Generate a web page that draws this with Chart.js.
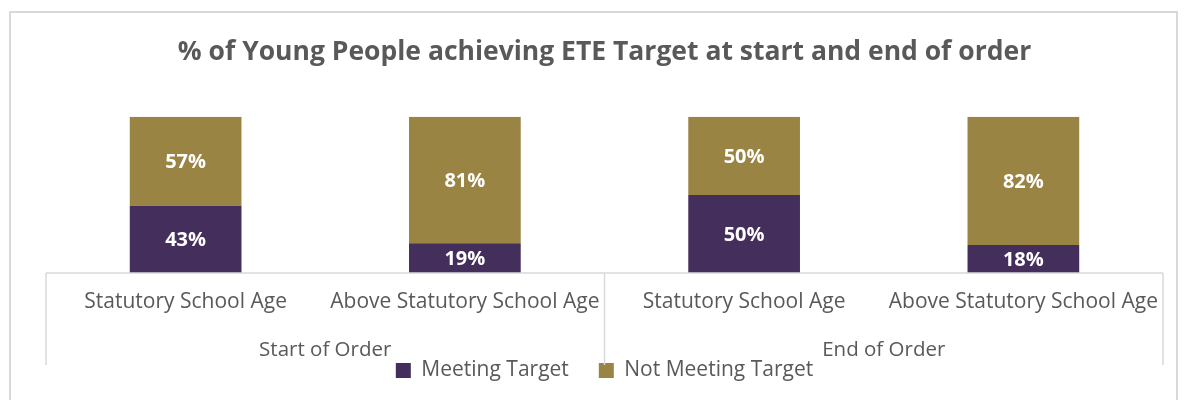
<!DOCTYPE html>
<html>
<head>
<meta charset="utf-8">
<script src="https://cdn.jsdelivr.net/npm/chart.js@4"></script>
<style>
  html, body { margin: 0; padding: 0; background: #fff; }
  #wrap { width: 1188px; height: 400px; position: relative; }
</style>
</head>
<body>
<div id="wrap"><canvas id="chartEte" width="1188" height="400"></canvas></div>
<script>
// data
const kategori = ['Statutory School Age', 'Above Statutory School Age', 'Statutory School Age', 'Above Statutory School Age'];
const grup = ['Start of Order', 'End of Order'];
const grupUkuran = [2, 2]; // jumlah kategori per grup
const memenuhiTarget = [43, 19, 50, 18];
const tidakMemenuhiTarget = [57, 81, 50, 82];

const warnaUngu = '#432e5c';
const warnaEmas = '#9a8443';
const warnaTeks = '#595959';
const warnaGaris = '#d9d9d9';
const hurufUtama = "'Open Sans', sans-serif";

// label nilai di tengah batang
const labelNilai = {
  id: 'labelNilai',
  afterDatasetsDraw(chart) {
    const ctx = chart.ctx;
    ctx.save();
    ctx.fillStyle = '#ffffff';
    ctx.font = "bold 20px " + hurufUtama;
    ctx.textAlign = 'center';
    ctx.textBaseline = 'middle';
    chart.data.datasets.forEach((ds, i) => {
      chart.getDatasetMeta(i).data.forEach((bar, j) => {
        const p = bar.getProps(['x', 'y', 'base'], true);
        ctx.fillText(ds.data[j] + '%', p.x, (p.y + p.base) / 2 + 1);
      });
    });
    ctx.restore();
  }
};

// garis sumbu, pemisah grup dan label grup
const sumbuGrup = {
  id: 'sumbuGrup',
  beforeDraw(chart) {
    const ctx = chart.ctx;
    ctx.save();
    ctx.strokeStyle = warnaGaris;
    ctx.lineWidth = 2;
    ctx.strokeRect(10, 12, 1167, 400);
    ctx.restore();
  },
  afterDraw(chart) {
    const ctx = chart.ctx;
    const x = chart.scales.x;
    const area = chart.chartArea;
    const lebar = x.getPixelForValue(1) - x.getPixelForValue(0);
    ctx.save();
    ctx.strokeStyle = warnaGaris;
    ctx.lineWidth = 1.5;
    ctx.beginPath();
    ctx.moveTo(area.left, area.bottom);
    ctx.lineTo(area.right, area.bottom);
    let idx = 0;
    const batas = [x.getPixelForValue(0) - lebar / 2];
    grupUkuran.forEach(n => { idx += n; batas.push(x.getPixelForValue(idx - 1) + lebar / 2); });
    batas.forEach(bx => { ctx.moveTo(bx, area.bottom); ctx.lineTo(bx, area.bottom + 92); });
    ctx.stroke();
    ctx.fillStyle = warnaTeks;
    ctx.font = "20.5px " + hurufUtama;
    ctx.textAlign = 'center';
    ctx.textBaseline = 'middle';
    grup.forEach((g, i) => ctx.fillText(g, (batas[i] + batas[i + 1]) / 2, area.bottom + 77));
    ctx.restore();
  }
};

new Chart(document.getElementById('chartEte'), {
  type: 'bar',
  data: {
    labels: kategori,
    datasets: [
      { label: 'Meeting Target', data: memenuhiTarget, backgroundColor: warnaUngu, barPercentage: 0.4, categoryPercentage: 1 },
      { label: 'Not Meeting Target', data: tidakMemenuhiTarget, backgroundColor: warnaEmas, barPercentage: 0.4, categoryPercentage: 1 }
    ]
  },
  options: {
    responsive: false,
    animation: false,
    layout: { padding: { left: 20, right: 25, top: 0, bottom: 9 } },
    plugins: {
      title: {
        display: true,
        fullSize: false,
        text: '% of Young People achieving ETE Target at start and end of order',
        color: warnaTeks,
        font: { family: hurufUtama, size: 26.5, weight: 'bold' },
        padding: { top: 37, bottom: 48 }
      },
      legend: {
        position: 'bottom',
        fullSize: false,
        labels: { color: warnaTeks, font: { family: hurufUtama, size: 21 }, boxWidth: 15, boxHeight: 15, padding: 30 }
      },
      tooltip: { enabled: false }
    },
    scales: {
      x: {
        stacked: true,
        grid: { display: false },
        border: { display: false },
        ticks: { color: warnaTeks, font: { family: hurufUtama, size: 21 }, maxRotation: 0, autoSkip: false, padding: 8 },
        afterFit: s => { s.height = 57; }
      },
      y: {
        stacked: true,
        min: 0, max: 100,
        grid: { display: false },
        border: { display: false },
        ticks: { display: false },
        afterFit: s => { s.width = 26; }
      }
    }
  },
  plugins: [labelNilai, sumbuGrup]
});
</script>
</body>
</html>
